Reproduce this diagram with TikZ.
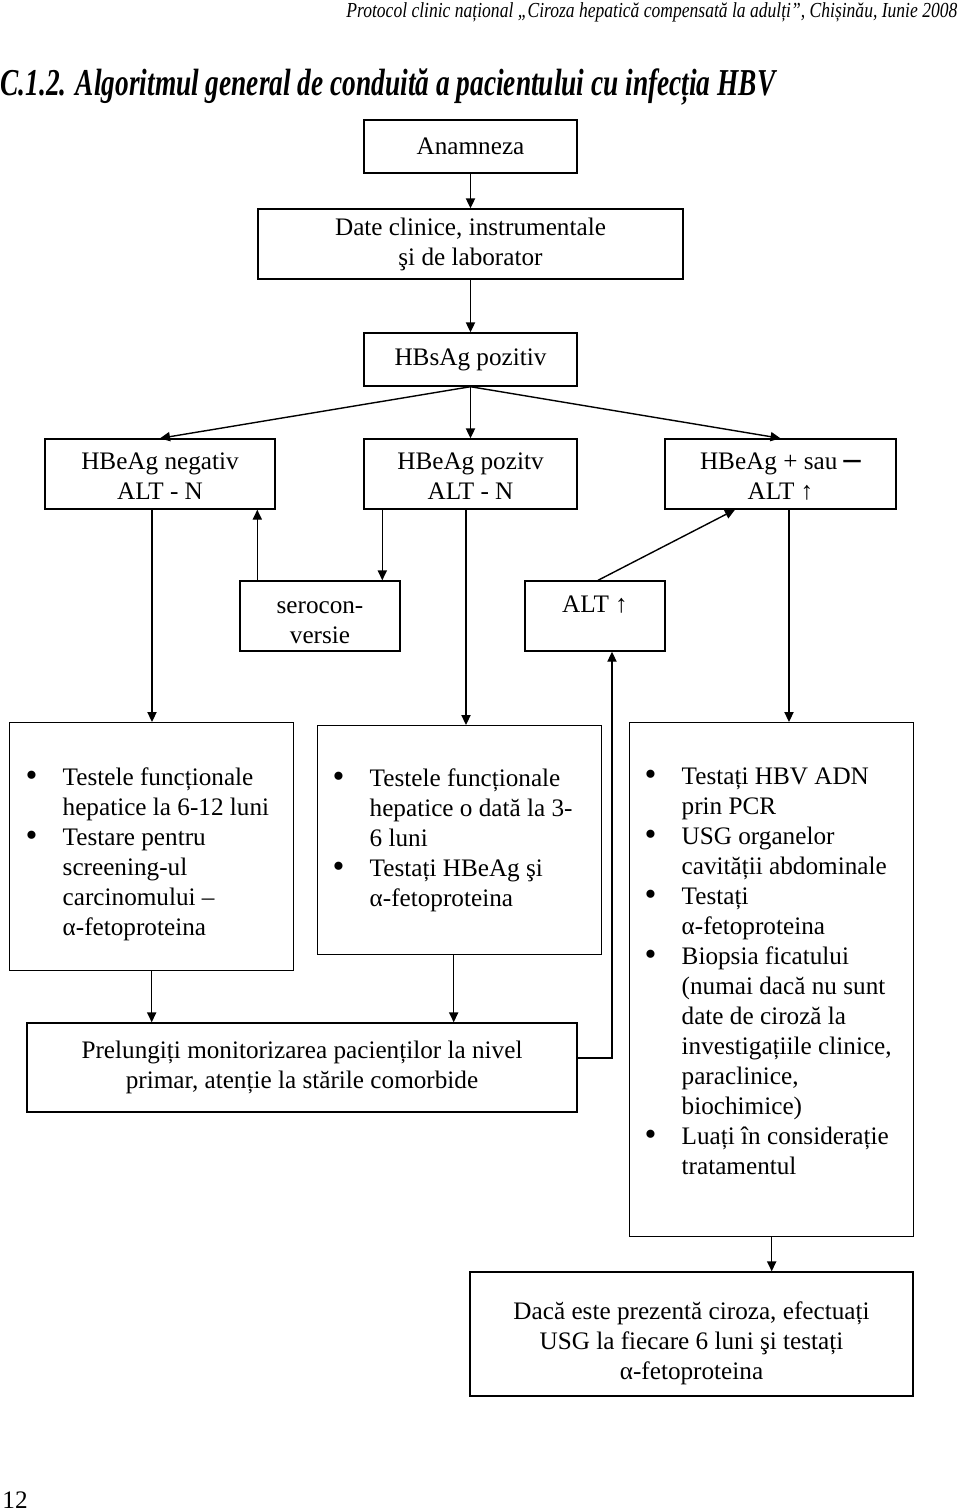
\documentclass[tikz,border=0pt]{standalone}
\usepackage{fontspec}
\setmainfont{Liberation Serif}
\newfontfamily\narrowfont[FakeStretch=0.82]{Liberation Serif}
\newfontfamily\titlefont[FakeStretch=0.72]{Liberation Serif}
\usetikzlibrary{arrows.meta}
\newcommand{\bul}{\raisebox{-0.6pt}{\fontsize{17}{15}\selectfont\textbullet}}
\newcommand{\dropby}[2]{\raisebox{-#1}[\height][\depth]{\begin{tabular}{@{}c@{}}#2\end{tabular}}}

\begin{document}
\begin{tikzpicture}[x=0.5pt,y=-0.5pt,->,>={Triangle[length=5pt,width=4.6pt]},line width=0.7pt,
  every node/.style={font=\fontsize{12.6}{15}\selectfont},
  main node/.style={rectangle,draw,align=center,inner sep=0pt},
  list box/.style={rectangle,draw,anchor=north west,inner sep=0pt},
  list text/.style={anchor=north west,inner sep=0pt,align=left}]

  \useasboundingbox (0,0) rectangle (960,1512);

  % page header and title
  \node[anchor=east,inner sep=0pt,font=\narrowfont\itshape\fontsize{10.7}{12}\selectfont] (hdr) at (958,12)
    {Protocol clinic național „Ciroza hepatică compensată la adulți”, Chișinău, Iunie 2008};
  \node[anchor=west,inner sep=0pt,font=\titlefont\bfseries\itshape\fontsize{19}{22}\selectfont] (ttl) at (0,87)
    {C.1.2. Algoritmul general de conduită a pacientului cu infecția HBV};

  % flow
  \node[main node,minimum width=106.5pt,minimum height=26.5pt] (1) at (470.5,146.5) {Anamneza};
  \node[main node,minimum width=212.5pt,minimum height=35pt] (2) at (470.5,244) {Date clinice, instrumentale\\şi de laborator};
  \node[main node,minimum width=106.5pt,minimum height=26.5pt] (3) at (470.5,359.5) {HBsAg pozitiv};
  \node[main node,minimum width=115pt,minimum height=35pt] (4) at (160,474) {\dropby{2pt}{HBeAg negativ\\ALT - N}};
  \node[main node,minimum width=106.5pt,minimum height=35pt] (5) at (470.5,474) {\dropby{2pt}{HBeAg pozitv\\ALT - N}};
  \node[main node,minimum width=115.5pt,minimum height=35pt] (6) at (780.5,474)
    {\dropby{2pt}{HBeAg + sau {\fontsize{17}{15}\selectfont\textbf{–}}\\ALT ↑}};
  \node[main node,minimum width=80pt,minimum height=35pt] (7) at (320,616) {\dropby{3pt}{serocon-\\versie}};
  \node[main node,minimum width=70pt,minimum height=35pt,text depth=12pt] (8) at (595,616) {ALT ↑};

  % lists
  \node[list box,minimum width=142pt,minimum height=124pt] (9) at (9,722) {};
  \node[list text] (9a) at (25,764) {\begin{tabular}{@{}p{18.5pt}@{}l@{}}
    \bul & Testele funcționale\\
         & hepatice la 6-12 luni\\
    \bul & Testare pentru\\
         & screening-ul\\
         & carcinomului --\\
         & α-fetoproteina
  \end{tabular}};
  \node[list box,minimum width=142pt,minimum height=114.5pt] (10) at (317,725) {};
  \node[list text] (10a) at (332,765) {\begin{tabular}{@{}p{18.5pt}@{}l@{}}
    \bul & Testele funcționale\\
         & hepatice o dată la 3-\\
         & 6 luni\\
    \bul & Testați HBeAg şi\\
         & α-fetoproteina
  \end{tabular}};
  \node[list box,minimum width=142pt,minimum height=257pt] (11) at (629,722) {};
  \node[list text] (11a) at (644,763) {\begin{tabular}{@{}p{18.5pt}@{}l@{}}
    \bul & Testați HBV ADN\\
         & prin PCR\\
    \bul & USG organelor\\
         & cavității abdominale\\
    \bul & Testați\\
         & α-fetoproteina\\
    \bul & Biopsia ficatului\\
         & (numai dacă nu sunt\\
         & date de ciroză la\\
         & investigațiile clinice,\\
         & paraclinice,\\
         & biochimice)\\
    \bul & Luați în considerație\\
         & tratamentul
  \end{tabular}};

  \node[main node,minimum width=275pt,minimum height=44.5pt] (12) at (302,1067.5)
    {Prelungiți monitorizarea pacienților la nivel\\primar, atenție la stările comorbide};
  \node[main node,minimum width=221.5pt,minimum height=62pt] (13) at (691.5,1334)
    {\dropby{4.5pt}{Dacă este prezentă ciroza, efectuați\\USG la fiecare 6 luni şi testați\\α-fetoproteina}};

  \node (pg) at (15,1500) {12};

  % connectors
  \path (1) edge (2)
        (2) edge (3)
        (3.south) edge (4.north)
        (3.south) edge (5.north)
        (3.south) edge (6.north);
  \draw ([xshift=9.5pt]5.south west) -- ([xshift=9.5pt]5.south west |- 7.north);
  \draw ([xshift=9pt]7.north west) -- ([xshift=9pt]7.north west |- 4.south);
  \draw ([xshift=1.5pt]8.north) -- ([xshift=-22.75pt]6.south);
  \draw ([xshift=-4pt]4.south) -- ([xshift=-4pt]4.south |- 9.north);
  \draw ([xshift=-2.25pt]5.south) -- ([xshift=-2.25pt]5.south |- 10.north);
  \draw ([xshift=4.25pt]6.south) -- ([xshift=4.25pt]6.south |- 11.north);
  \draw (9.south) -- (9.south |- 12.north);
  \draw ([xshift=-3pt]10.south) -- ([xshift=-3pt]10.south |- 12.north);
  \draw (11.south) -- (11.south |- 13.north);
  \draw ([yshift=4.75pt]12.east) -| ([xshift=8.5pt]8.south);
\end{tikzpicture}
\end{document}
